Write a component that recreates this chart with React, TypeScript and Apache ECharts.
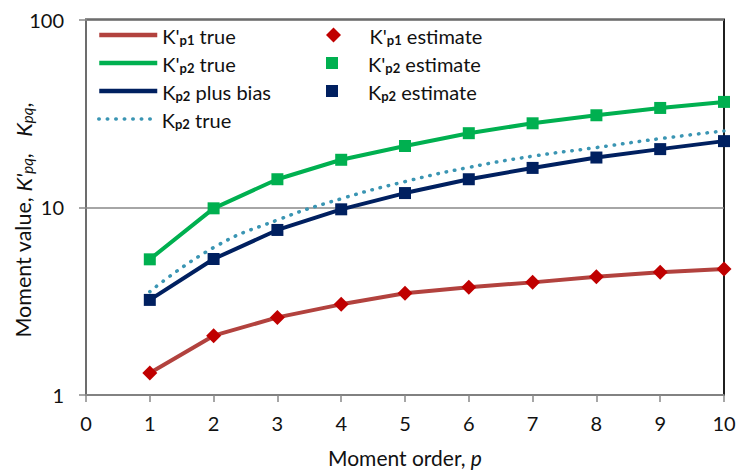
import React, { useEffect, useRef } from "react";
import * as echarts from "echarts";

const orders = [1, 2, 3, 4, 5, 6, 7, 8, 9, 10];
const kp1True = [1.31, 2.07, 2.59, 3.04, 3.48, 3.75, 3.98, 4.27, 4.5, 4.69];
const kp2PrimeTrue = [5.28, 9.87, 14.1, 17.9, 21.2, 24.8, 28.0, 30.9, 33.8, 36.4];
const kp2PlusBias = [3.21, 5.3, 7.57, 9.75, 11.9, 14.1, 16.2, 18.4, 20.4, 22.5];
const kp2True = [3.55, 6.1, 8.55, 11.1, 13.7, 16.3, 18.7, 20.8, 23.2, 25.5];
const kp1Estimate = [1.31, 2.07, 2.59, 3.04, 3.48, 3.75, 3.98, 4.27, 4.5, 4.69];
const kp2PrimeEstimate = [5.28, 9.87, 14.1, 17.9, 21.2, 24.8, 28.0, 30.9, 33.8, 36.4];
const kp2Estimate = [3.21, 5.3, 7.57, 9.75, 11.9, 14.1, 16.2, 18.4, 20.4, 22.5];
const yTicks = [1, 10, 100];
const xTicks = [0, 1, 2, 3, 4, 5, 6, 7, 8, 9, 10];

const FONT = "Lato";
const TXT = "#111111";

const pairs = (ys: number[]) => orders.map((x, i) => [x, ys[i]]);

const legendLabels: Record<string, string> = {
  "K'p1 true": "{b|K'}{s|p1}{b| true}",
  "K'p2 true": "{b|K'}{s|p2}{b| true}",
  "Kp2 plus bias": "{b|K}{s|p2}{b| plus bias}",
  "Kp2 true": "{b|K}{s|p2}{b| true}",
  "K'p1 estimate": "{b|K'}{s|p1}{b| estimate}",
  "K'p2 estimate": "{b|K'}{s|p2}{b| estimate}",
  "Kp2 estimate": "{b|K}{s|p2}{b| estimate}",
};

const rich = {
  b: { fontFamily: FONT, fontSize: 20, color: TXT, lineHeight: 22, verticalAlign: "bottom" },
  s: { fontFamily: FONT, fontSize: 13, fontWeight: "bold", color: TXT, lineHeight: 13, verticalAlign: "bottom" },
};

const leftRows = ["K'p1 true", "K'p2 true", "Kp2 plus bias", "Kp2 true"];
const leftWidths = [4.5, 4.5, 4.5, 3.5];
const rightRows = ["K'p1 estimate", "K'p2 estimate", "Kp2 estimate"];
const rightIcons = [
  "path://M0,-1L1,0L0,1L-1,0Z",
  "path://M0,0L1,0L1,1L0,1Z",
  "path://M0,0L1,0L1,1L0,1Z",
];
const rowCenters = [38, 66, 94, 122];

export default function App() {
  const ref = useRef<HTMLDivElement>(null);
  useEffect(() => {
    if (!ref.current) return;
    const chart = echarts.init(ref.current, undefined, { renderer: "svg" });
    const legends: any[] = [];
    leftRows.forEach((name, i) => {
      legends.push({
        data: [name],
        left: 97,
        top: rowCenters[i] - 12,
        itemWidth: 58,
        itemHeight: 14,
        itemStyle: { opacity: 0 },
        lineStyle: { width: leftWidths[i] },
        formatter: (n: string) => legendLabels[n],
        textStyle: { rich, fontFamily: FONT, fontSize: 20, color: TXT },
        selectedMode: false,
        padding: 0,
      });
    });
    rightRows.forEach((name, i) => {
      legends.push({
        data: [name],
        left: 326,
        top: rowCenters[i] - 12,
        itemWidth: 62,
        itemHeight: i === 0 ? 15 : 12,
        icon: rightIcons[i],
        formatter: (n: string) => legendLabels[n],
        textStyle: { rich, fontFamily: FONT, fontSize: 20, color: TXT },
        selectedMode: false,
        padding: 0,
      });
    });
    const axisGray = "#898989";
    chart.setOption({
      animation: false,
      backgroundColor: "#ffffff",
      textStyle: { fontFamily: FONT },
      grid: {
        left: 86,
        right: 13,
        top: 19.5,
        bottom: 76,
        show: true,
        borderColor: "#1f1f1f",
        borderWidth: 2,
        backgroundColor: "transparent",
        containLabel: false,
        outerBoundsMode: "none",
      },
      legend: legends,
      xAxis: {
        type: "value",
        min: xTicks[0],
        max: xTicks[xTicks.length - 1],
        interval: 1,
        name: "Moment order, {i|p}",
        nameLocation: "middle",
        nameGap: 52,
        nameMoveOverlap: false,
        nameTextStyle: {
          fontFamily: FONT,
          fontSize: 21,
          color: TXT,
          rich: { i: { fontFamily: FONT, fontSize: 21, fontStyle: "italic", color: TXT } },
        },
        axisLine: { show: true, lineStyle: { color: axisGray, width: 1.5 } },
        axisTick: { show: true, inside: false, length: 7, lineStyle: { color: axisGray, width: 1.5 } },
        splitLine: { show: false },
        axisLabel: { fontFamily: FONT, fontSize: 20, color: TXT, margin: 18 },
      },
      yAxis: {
        type: "log",
        logBase: 10,
        min: yTicks[0],
        max: yTicks[yTicks.length - 1],
        name: "Moment value, {i|K'}{is|pq}{n|,   }{i|K}{is|pq}{n|,}",
        nameLocation: "middle",
        nameGap: 52,
        nameMoveOverlap: false,
        nameRotate: 90,
        nameTextStyle: {
          fontFamily: FONT,
          fontSize: 21.5,
          color: TXT,
          padding: [0, 26, 0, 0],
          rich: {
            n: { fontFamily: FONT, fontSize: 21.5, color: TXT, lineHeight: 23, verticalAlign: "bottom" },
            i: { fontFamily: FONT, fontSize: 22, fontStyle: "italic", color: TXT, lineHeight: 23, verticalAlign: "bottom" },
            is: { fontFamily: FONT, fontSize: 15, fontStyle: "italic", color: TXT, lineHeight: 14, verticalAlign: "bottom" },
          },
        },
        axisLine: { show: true, lineStyle: { color: axisGray, width: 1.5 } },
        axisTick: { show: true, inside: false, length: 7, lineStyle: { color: axisGray, width: 1.5 } },
        splitLine: { show: true, lineStyle: { color: axisGray, width: 1.5 } },
        minorTick: { show: false },
        axisLabel: {
          fontFamily: FONT,
          fontSize: 20,
          color: TXT,
          margin: 8,
          formatter: "{v|{value}}",
          rich: { v: { fontFamily: FONT, fontSize: 20, color: TXT, padding: [0, 14, 0, 0] } },
        },
      },
      series: [
        {
          name: "K'p1 true",
          type: "line",
          data: pairs(kp1True),
          symbol: "none",
          lineStyle: { color: "#B2423E", width: 4 },
          itemStyle: { color: "#B2423E" },
        },
        {
          name: "K'p2 true",
          type: "line",
          data: pairs(kp2PrimeTrue),
          symbol: "none",
          lineStyle: { color: "#00B050", width: 4 },
          itemStyle: { color: "#00B050" },
        },
        {
          name: "Kp2 plus bias",
          type: "line",
          data: pairs(kp2PlusBias),
          symbol: "none",
          lineStyle: { color: "#002060", width: 4 },
          itemStyle: { color: "#002060" },
        },
        {
          name: "Kp2 true",
          type: "line",
          data: pairs(kp2True),
          symbol: "none",
          smooth: true,
          lineStyle: { color: "#3A95B3", width: 3.5, type: [0.5, 8], cap: "round" },
          itemStyle: { color: "#3A95B3" },
        },
        {
          name: "K'p1 estimate",
          type: "scatter",
          data: pairs(kp1Estimate),
          symbol: "diamond",
          symbolSize: 15,
          itemStyle: { color: "#C00000", opacity: 1 },
          z: 5,
        },
        {
          name: "K'p2 estimate",
          type: "scatter",
          data: pairs(kp2PrimeEstimate),
          symbol: "rect",
          symbolSize: 12,
          itemStyle: { color: "#00B050", opacity: 1 },
          z: 5,
        },
        {
          name: "Kp2 estimate",
          type: "scatter",
          data: pairs(kp2Estimate),
          symbol: "rect",
          symbolSize: 12,
          itemStyle: { color: "#002060", opacity: 1 },
          z: 5,
        },
      ],
    });
    return () => chart.dispose();
  }, []);
  return (
    <div
      ref={ref}
      style={{ position: "fixed", left: 0, top: 0, width: 737, height: 471, background: "#fff" }}
    />
  );
}
